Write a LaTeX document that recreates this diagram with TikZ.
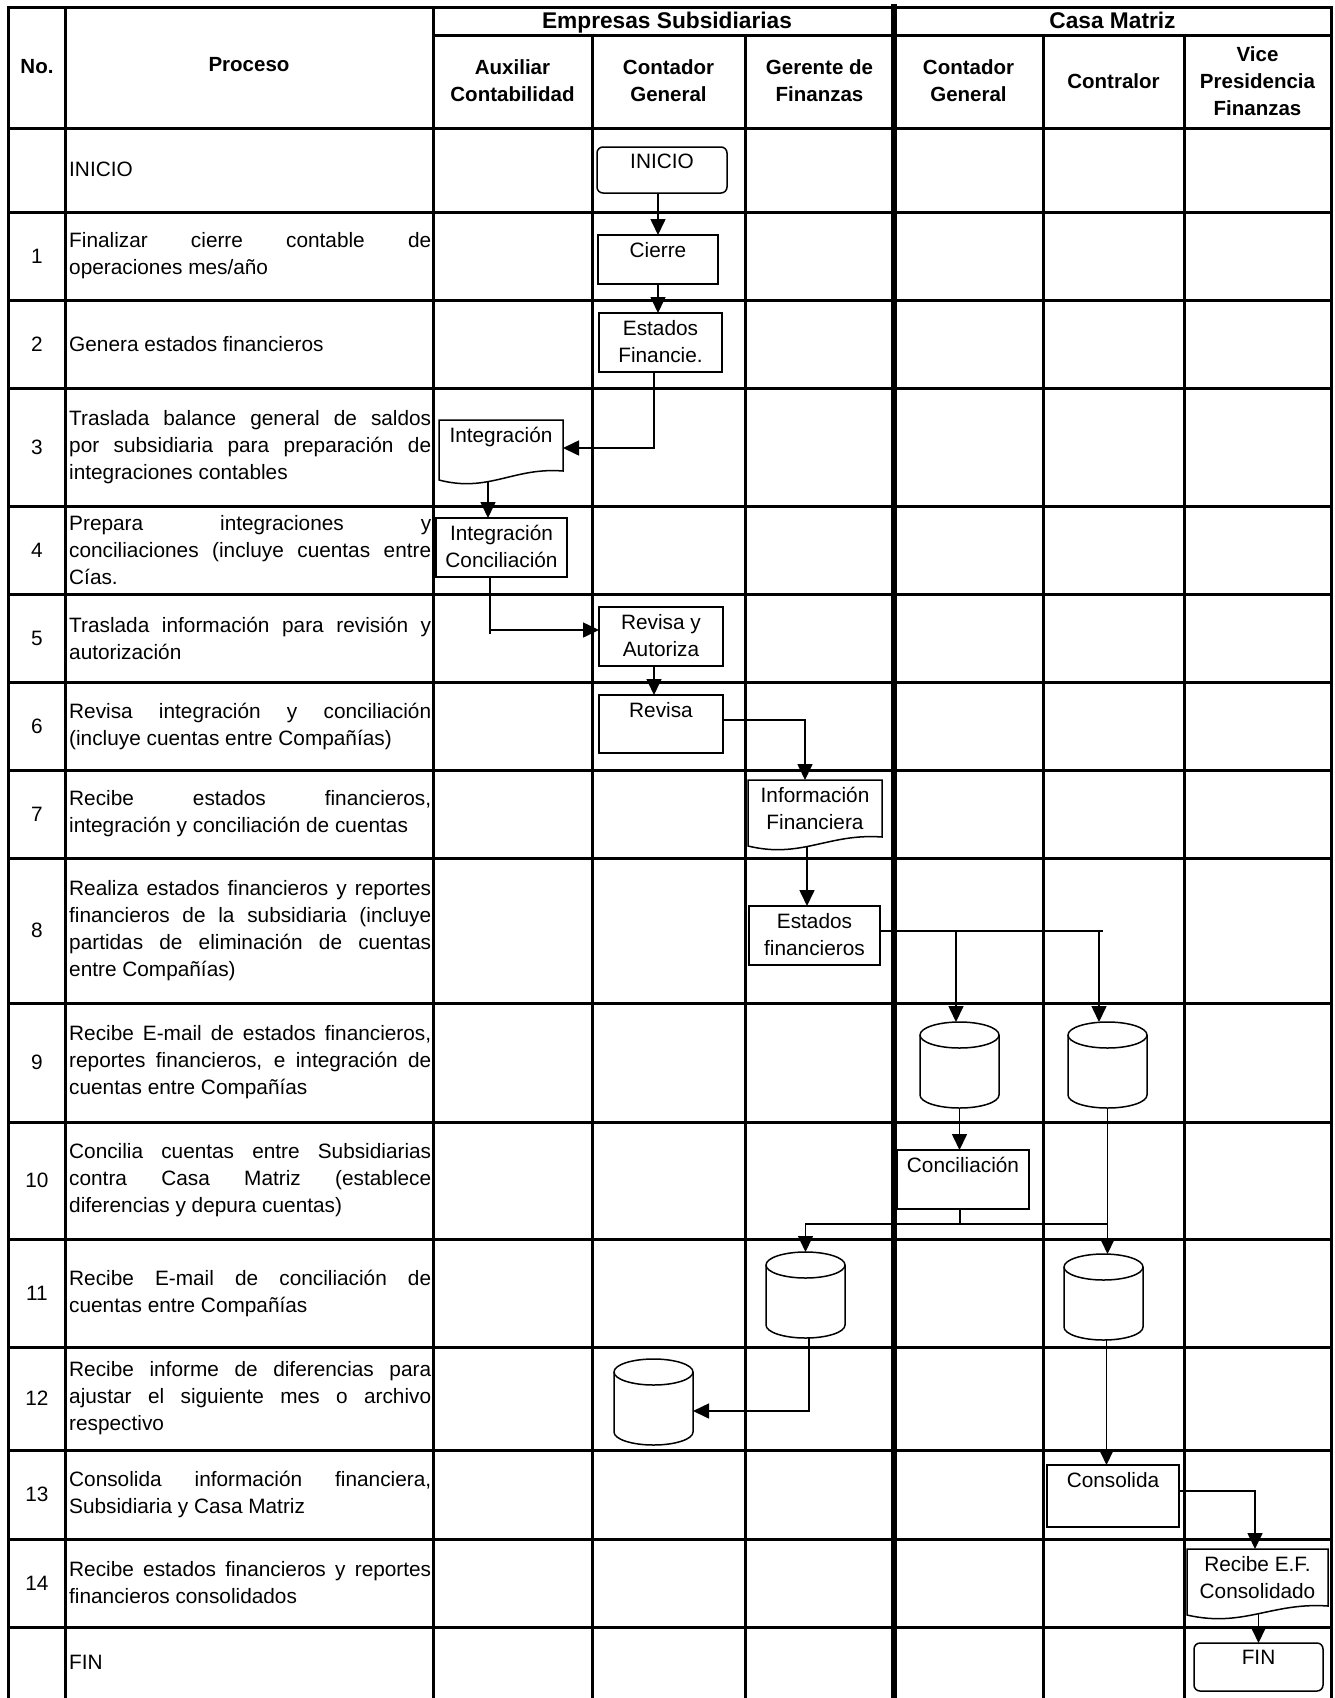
\documentclass[tikz,border=0pt]{standalone}
\usepackage{fontspec}
\setmainfont{Liberation Sans}
\usetikzlibrary{arrows.meta}
\newcommand{\mybody}{\fontsize{20.8}{27}\selectfont}
\newcommand{\myhdr}{\fontsize{20.5}{27}\selectfont\bfseries}
\newcommand{\mytop}{\fontsize{22.7}{27}\selectfont\bfseries}
\newcommand{\jl}[1]{\makebox[362pt][s]{#1}}
% document shape: name, x0, top, x1, bottom-right y, text
\newcommand{\docnode}[6]{%
  \draw[shp] (#2,#5+9) -- (#2,#3) -- (#4,#3) -- (#4,#5)
    .. controls ({#2+0.6*(#4-#2)},#5-4) and ({#2+0.4*(#4-#2)},#5+22) .. (#2,#5+9) -- cycle;
  \node[inner sep=0pt,outer sep=0pt,minimum width={(#4-#2)*1pt},minimum height={(#5-#3)*1pt},
        label={[blab]north:#6}] (#1) at ({(#2+#4)/2},{(#3+#5)/2}) {};}
% cylinder: name, centre x, top y
\newcommand{\cylnode}[3]{%
  \node[inner sep=0pt,outer sep=0pt,minimum width=79pt,minimum height=86pt,anchor=north] (#1) at (#2,#3) {};
  \draw[shp] ([yshift=-13pt]#1.north west) -- ([yshift=13pt]#1.south west)
     arc[start angle=180,end angle=360,x radius=39.5pt,y radius=13pt]
     -- ([yshift=-13pt]#1.north east)
     arc[start angle=0,end angle=180,x radius=39.5pt,y radius=13pt] -- cycle;
  \draw[shp] ([yshift=-13pt]#1.north east) arc[start angle=0,end angle=-180,x radius=39.5pt,y radius=13pt];}
\begin{document}
\begin{tikzpicture}[x=1pt,y=-1pt,
  grid/.style={line width=3pt,line cap=rect},
  sepline/.style={line width=5.5pt,line cap=rect},
  shp/.style={draw,line width=1.5pt,fill=white,inner sep=0pt,outer sep=0pt},
  blab/.style={anchor=north,inner sep=0pt,yshift=-7pt,align=center,font=\mybody},
  conn/.style={line width=1.6pt,-{Triangle[length=16pt,width=15pt]}},
  plain/.style={line width=1.6pt},
  rowtxt/.style={anchor=west,inner sep=0pt,align=left,font=\mybody},
  num/.style={inner sep=0pt,font=\mybody},
  hdr/.style={inner sep=0pt,align=center,font=\myhdr},
  tophdr/.style={inner sep=0pt,anchor=base,font=\mytop}]
\useasboundingbox (0,0) rectangle (1335,1698);

% ---------- grid ----------
\draw[grid] (8,7) -- (1331,7);
\draw[grid] (433,35) -- (1331,35);
\foreach \yy in {128,212,300,388,506,594,682,770,858,1003,1122,1239,1347,1450,1539,1627}
  \draw[grid] (8,\yy) -- (1331,\yy);
\foreach \xx in {8,65,433,1331}
  \draw[grid] (\xx,7) -- (\xx,1705);
\foreach \xx in {592,745,1043,1184}
  \draw[grid] (\xx,35) -- (\xx,1705);
\draw[sepline] (894,7) -- (894,1705);

% ---------- headers ----------
\node[tophdr] (hEmp) at (667,28.5) {Empresas Subsidiarias};
\node[tophdr] (hCM) at (1112.5,28.5) {Casa Matriz};
\node[hdr] (hNo) at (37,67) {No.};
\node[hdr] (hProc) at (249,65) {Proceso};
\node[hdr] (hAux) at (512.5,81) {Auxiliar\\Contabilidad};
\node[hdr] (hCG) at (668.5,81) {Contador\\General};
\node[hdr] (hGF) at (819.5,81) {Gerente de\\Finanzas};
\node[hdr] (hCGm) at (968.5,81) {Contador\\General};
\node[hdr] (hCon) at (1113.5,81) {Contralor};
\node[hdr] (hVP) at (1257.5,81) {Vice\\Presidencia\\Finanzas};

% ---------- numbers ----------
\foreach \n/\yy in {1/256,2/344,3/447,4/550,5/638,6/726,7/814,8/930.5,9/1062.5,10/1180.5,11/1293,12/1398.5,13/1494.5,14/1583}
  \node[num] (n\n) at (37,\yy) {\n};

% ---------- process texts ----------
\node[rowtxt] (p0) at (69,169.5) {INICIO};
\node[rowtxt] (p1) at (69,256) {\jl{Finalizar cierre contable de}\\operaciones mes/año};
\node[rowtxt] (p2) at (69,344) {Genera estados financieros};
\node[rowtxt] (p3) at (69,447) {\jl{Traslada balance general de saldos}\\\jl{por subsidiaria para preparación de}\\integraciones contables};
\node[rowtxt] (p4) at (69,550) {\jl{Prepara integraciones y}\\\jl{conciliaciones (incluye cuentas entre}\\Cías.};
\node[rowtxt] (p5) at (69,638) {\jl{Traslada información para revisión y}\\autorización};
\node[rowtxt] (p6) at (69,726) {\jl{Revisa integración y conciliación}\\(incluye cuentas entre Compañías)};
\node[rowtxt] (p7) at (69,814) {\jl{Recibe estados financieros,}\\integración y conciliación de cuentas};
\node[rowtxt] (p8) at (69,930.5) {\jl{Realiza estados financieros y reportes}\\\jl{financieros de la subsidiaria (incluye}\\\jl{partidas de eliminación de cuentas}\\entre Compañías)};
\node[rowtxt] (p9) at (69,1062.5) {\jl{Recibe E-mail de estados financieros,}\\\jl{reportes financieros, e integración de}\\cuentas entre Compañías};
\node[rowtxt] (p10) at (69,1180.5) {\jl{Concilia cuentas entre Subsidiarias}\\\jl{contra Casa Matriz (establece}\\diferencias y depura cuentas)};
\node[rowtxt] (p11) at (69,1293) {\jl{Recibe E-mail de conciliación de}\\cuentas entre Compañías};
\node[rowtxt] (p12) at (69,1398.5) {\jl{Recibe informe de diferencias para}\\\jl{ajustar el siguiente mes o archivo}\\respectivo};
\node[rowtxt] (p13) at (69,1494.5) {\jl{Consolida información financiera,}\\Subsidiaria y Casa Matriz};
\node[rowtxt] (p14) at (69,1583) {\jl{Recibe estados financieros y reportes}\\financieros consolidados};
\node[rowtxt] (p15) at (69,1662.5) {FIN};

% ---------- flow shapes ----------
\node[shp,rounded corners=6pt,minimum width=130pt,minimum height=46pt,label={[blab]north:INICIO}] (inicio) at (662,170) {};
\node[shp,minimum width=120pt,minimum height=49pt,label={[blab]north:Cierre}] (cierre) at (658,259.5) {};
\node[shp,minimum width=123pt,minimum height=59pt,label={[blab]north:Estados\\Financie.}] (estados) at (660.5,342.5) {};
\docnode{integ}{439}{420}{563}{471}{Integración}
\node[shp,minimum width=131pt,minimum height=59pt,label={[blab]north:Integración\\Conciliación}] (ic) at (501.5,547.5) {};
\node[shp,minimum width=124pt,minimum height=59pt,label={[blab]north:Revisa y\\Autoriza}] (ra) at (661,636.5) {};
\node[shp,minimum width=124pt,minimum height=58pt,label={[blab]north:Revisa}] (revisa) at (661,724) {};
\docnode{info}{748}{780}{882}{837}{Información\\Financiera}
\node[shp,minimum width=131pt,minimum height=59pt,label={[blab]north:Estados\\financieros}] (ef) at (814.5,935.5) {};
\cylnode{cylA}{959.5}{1022}
\cylnode{cylB}{1107.5}{1022}
\node[shp,minimum width=132pt,minimum height=59pt,label={[blab]north:Conciliación}] (conc) at (963,1179.5) {};
\cylnode{cylC}{805.5}{1252}
\cylnode{cylD}{1103.5}{1254}
\cylnode{cylE}{653.5}{1359}
\node[shp,minimum width=132pt,minimum height=62pt,label={[blab]north:Consolida}] (consol) at (1113,1496) {};
\docnode{recibe}{1187}{1549}{1328}{1606}{Recibe E.F.\\Consolidado}
\node[shp,rounded corners=6pt,minimum width=129pt,minimum height=48pt,label={[blab]north:FIN}] (fin) at (1258.5,1667) {};

% ---------- connectors ----------
\coordinate (j1) at (1103,931);
\coordinate (j2) at (1108,1224);
\draw[conn] (inicio.south -| cierre.north) -- (cierre.north);
\draw[conn] (cierre.south) -- (cierre.south |- estados.north);
\draw[conn] ([xshift=-6.5pt]estados.south) |- ([yshift=-2.5pt]integ.east);
\draw[conn] ([xshift=-13pt,yshift=-11pt]integ.south) -- ([xshift=-13pt]integ.south |- ic.north);
\draw[plain] ([xshift=-11.5pt]ic.south) -- ++(0,57);
\draw[conn] ([xshift=-11.5pt]ic.south) |- ([yshift=6.5pt]ra.west);
\draw[conn] ([xshift=-7pt]ra.south) -- ([xshift=-7pt]revisa.north);
\draw[conn] ([yshift=4pt]revisa.east) -| ([xshift=-10pt]info.north);
\draw[conn] ([xshift=-8pt,yshift=-10pt]info.south) -- ([xshift=-8pt]info.south |- ef.north);
\draw[plain] ([yshift=4.5pt]ef.east) -- (j1);
\draw[conn] ([yshift=4.5pt]ef.east) -| ([xshift=-3.5pt]cylA.north);
\draw[conn] ([yshift=4.5pt]ef.east) -| ([xshift=-8.5pt]cylB.north);
\draw[conn] (cylA.south) -- (cylA.south |- conc.north);
\draw[conn] ([xshift=-3pt]conc.south) -- ++(0,15) -| (cylC.north);
\draw[plain] ([xshift=-3pt,yshift=-15pt]conc.south) -- (j2);
\draw[conn] (cylB.south) -- (cylB.south |- cylD.north);
\draw[conn] ([xshift=3.5pt]cylC.south) |- ([yshift=-9pt]cylE.east);
\draw[conn] ([xshift=3pt]cylD.south) -- ([xshift=3pt]cylD.south |- consol.north);
\draw[conn] ([yshift=5pt]consol.east) -| ([xshift=-2.5pt]recibe.north);
\draw[conn] (fin.north) ++(0,-29) -- (fin.north);
\end{tikzpicture}
\end{document}
